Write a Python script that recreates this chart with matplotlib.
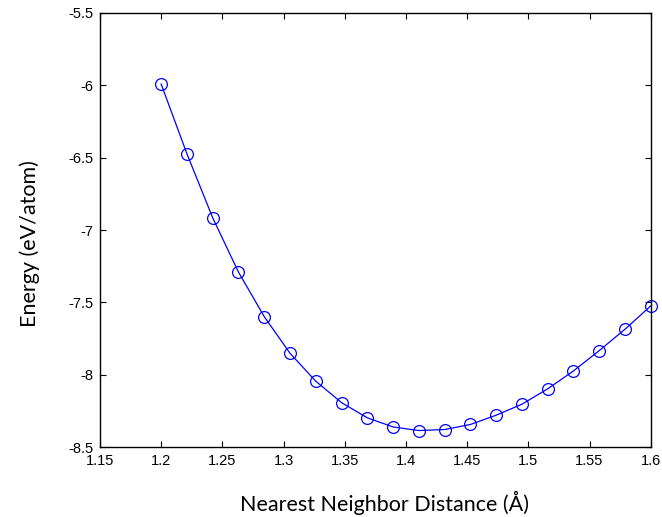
import matplotlib
matplotlib.use('Agg')
import matplotlib.pyplot as plt
import numpy as np

# nearest neighbor distance (angstrom) and energy per atom
dist = np.linspace(1.2, 1.6, 20)
energy = [-5.992, -6.473, -6.915, -7.290, -7.598, -7.851, -8.044, -8.192,
          -8.297, -8.360, -8.385, -8.378, -8.343, -8.279, -8.203, -8.097,
          -7.973, -7.833, -7.685, -7.524]

xticks = [1.15, 1.2, 1.25, 1.3, 1.35, 1.4, 1.45, 1.5, 1.55, 1.6]
yticks = [-8.5, -8, -7.5, -7, -6.5, -6, -5.5]

plt.rcParams['axes.unicode_minus'] = False

fig = plt.figure(figsize=(6.62, 5.17), dpi=100)
ax = fig.add_axes([0.151, 0.135, 0.832, 0.840])

ax.plot(dist, energy, '-', color='#0000ff', lw=0.9)
ax.plot(dist, energy, 'o', mfc='none', mec='#0000ff', ms=8.5, mew=0.9,
        clip_on=False)

ax.set_xlim(1.15, 1.6)
ax.set_ylim(-8.5, -5.5)
ax.set_xticks(xticks)
ax.set_xticklabels(['%g' % t for t in xticks])
ax.set_yticks(yticks)
ax.set_yticklabels(['%g' % t for t in yticks])

ax.tick_params(direction='in', length=4, width=0.8, top=True, right=True,
               labelsize=10.5, pad=5)
for lab in ax.get_xticklabels() + ax.get_yticklabels():
    lab.set_family('Liberation Sans')
for s in ax.spines.values():
    s.set_linewidth(1.0)

ax.set_xlabel('Nearest Neighbor Distance (Å)', family='Lato', fontsize=15.5,
              labelpad=16)
ax.set_ylabel('Energy (eV/atom)', family='Lato', fontsize=15.5, labelpad=20)
# labels sit a little off centre in the original
ax.xaxis.label.set_x(0.517)
ax.yaxis.label.set_y(0.47)

fig.savefig('out.png', dpi=100)
